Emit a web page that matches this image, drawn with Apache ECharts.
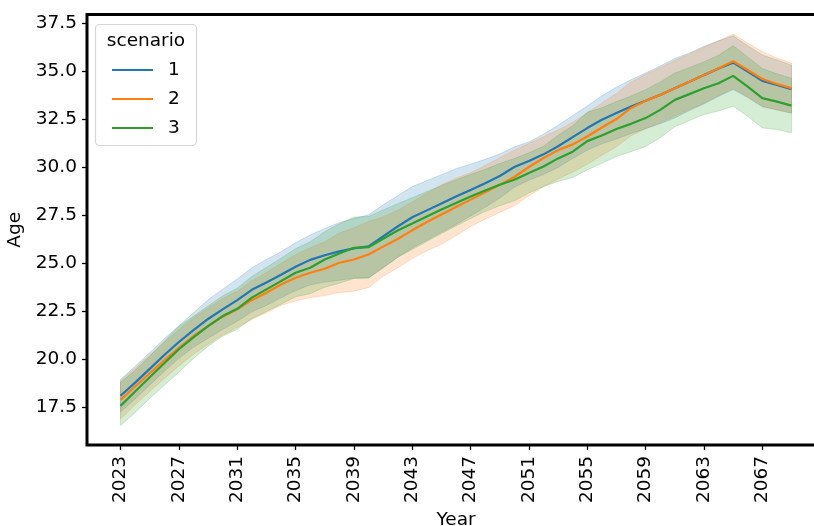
<!DOCTYPE html>
<html><head><meta charset="utf-8">
<script src="https://cdn.jsdelivr.net/npm/echarts@6/dist/echarts.min.js"></script>
<style>html,body{margin:0;padding:0;background:#fff}#c{width:814px;height:526px}</style>
</head><body><div id="c"></div>
<script>
const years = [2023,2024,2025,2026,2027,2028,2029,2030,2031,2032,2033,2034,2035,2036,2037,2038,2039,2040,2041,2042,2043,2044,2045,2046,2047,2048,2049,2050,2051,2052,2053,2054,2055,2056,2057,2058,2059,2060,2061,2062,2063,2064,2065,2066,2067,2068,2069];
const xTicks = [2023,2027,2031,2035,2039,2043,2047,2051,2055,2059,2063,2067];
const yTicks = [17.5,20,22.5,25,27.5,30,32.5,35,37.5];
const names = ['1','2','3'];

const mean1 = [18.1,18.78,19.5,20.22,20.9,21.52,22.1,22.6,23.08,23.62,24.0,24.4,24.82,25.18,25.42,25.62,25.78,25.88,26.4,26.92,27.4,27.76,28.12,28.48,28.82,29.17,29.55,30.02,30.33,30.68,31.1,31.58,32.05,32.48,32.83,33.17,33.47,33.78,34.13,34.46,34.81,35.15,35.46,34.99,34.51,34.3,34.08];
const upper1 = [18.95,19.63,20.35,21.07,21.75,22.42,23.1,23.65,24.18,24.77,25.2,25.6,26.07,26.48,26.82,27.12,27.33,27.53,28.05,28.52,29.0,29.31,29.62,29.93,30.17,30.42,30.7,31.07,31.33,31.73,32.2,32.7,33.2,33.73,34.18,34.57,34.92,35.28,35.68,35.96,36.31,36.6,36.86,36.34,35.86,35.6,35.33];
const lower1 = [17.25,17.93,18.65,19.37,20.05,20.62,21.1,21.55,21.98,22.47,22.8,23.2,23.57,23.88,24.02,24.12,24.23,24.23,24.75,25.32,25.8,26.21,26.62,27.03,27.47,27.92,28.4,28.97,29.33,29.63,30.0,30.46,30.9,31.23,31.48,31.77,32.02,32.28,32.58,32.96,33.31,33.7,34.06,33.64,33.16,33.0,32.83];

const mean2 = [17.88,18.58,19.27,19.94,20.6,21.21,21.73,22.22,22.6,23.08,23.47,23.9,24.25,24.51,24.72,25.03,25.2,25.46,25.87,26.27,26.72,27.15,27.54,27.94,28.32,28.7,29.1,29.5,30.02,30.49,30.9,31.2,31.61,32.08,32.52,33.1,33.47,33.78,34.13,34.46,34.81,35.17,35.53,35.08,34.61,34.35,34.13];
const upper2 = [18.88,19.53,20.22,20.89,21.55,22.16,22.68,23.17,23.55,24.08,24.52,25.0,25.45,25.81,26.12,26.58,26.85,27.18,27.42,27.77,28.19,28.65,29.09,29.44,29.72,30.1,30.5,30.9,31.25,31.6,31.95,32.35,32.85,33.35,33.85,34.45,34.85,35.2,35.58,35.91,36.26,36.59,36.95,36.48,36.03,35.7,35.43];
const lower2 = [16.88,17.63,18.32,18.99,19.65,20.26,20.78,21.27,21.65,22.08,22.42,22.8,23.05,23.21,23.32,23.48,23.55,23.74,24.32,24.77,25.25,25.65,25.99,26.44,26.92,27.3,27.65,28.0,28.52,28.99,29.4,29.75,30.16,30.63,31.07,31.65,32.02,32.33,32.68,33.01,33.36,33.75,34.11,33.68,33.19,33.0,32.83];

const mean3 = [17.57,18.32,19.06,19.79,20.52,21.14,21.73,22.25,22.63,23.21,23.64,24.07,24.51,24.77,25.2,25.51,25.81,25.84,26.28,26.71,27.07,27.44,27.8,28.15,28.48,28.8,29.1,29.36,29.71,30.05,30.47,30.82,31.37,31.66,32.0,32.27,32.57,33.0,33.52,33.82,34.13,34.39,34.77,34.21,33.61,33.43,33.22];
const upper3 = [18.8,19.42,20.16,20.94,21.72,22.24,22.78,23.3,23.7,24.31,24.79,25.27,25.76,26.12,26.65,27.06,27.41,27.44,27.78,28.11,28.42,28.74,29.05,29.35,29.63,29.9,30.2,30.46,30.76,31.1,31.67,32.17,32.87,33.11,33.43,33.72,34.05,34.45,34.92,35.2,35.5,35.84,36.35,35.76,35.16,34.88,34.65];
const lower3 = [16.55,17.22,17.96,18.64,19.32,20.04,20.68,21.2,21.56,22.11,22.49,22.87,23.26,23.42,23.75,23.96,24.21,24.24,24.78,25.31,25.72,26.14,26.55,26.95,27.33,27.7,28.0,28.26,28.66,29.0,29.27,29.47,29.87,30.21,30.57,30.82,31.09,31.55,32.12,32.44,32.76,32.94,33.19,32.66,32.06,31.98,31.79];

const colors = ['#1f77b4','#ff7f0e','#2ca02c'];
const bandFill = ['rgba(31,119,180,0.2)','rgba(255,127,14,0.2)','rgba(44,160,44,0.2)'];
const means = [mean1, mean2, mean3];
const uppers = [upper1, upper2, upper3];
const lowers = [lower1, lower2, lower3];
const FONT = 'DejaVu Sans';
const FS = 18.5;

function bandSeries(k) {
  return {
    type: 'custom', name: 'band' + names[k], z: 1, silent: true,
    data: [[years[0], lowers[k][0]]],
    renderItem: function (params, api) {
      const pts = [];
      for (let i = 0; i < years.length; i++) pts.push(api.coord([years[i], uppers[k][i]]));
      for (let i = years.length - 1; i >= 0; i--) pts.push(api.coord([years[i], lowers[k][i]]));
      return { type: 'polygon', shape: { points: pts },
        style: { fill: bandFill[k], stroke: bandFill[k], lineWidth: 1 } };
    }
  };
}
function lineSeries(k) {
  return {
    type: 'line', name: names[k], z: 3, showSymbol: false, symbol: 'none',
    data: years.map((y, i) => [y, means[k][i]]),
    lineStyle: { color: colors[k], width: 2.2 }, itemStyle: { color: colors[k] }
  };
}

const chart = echarts.init(document.getElementById('c'), null, { renderer: 'canvas' });
chart.setOption({
  animation: false,
  backgroundColor: '#fff',
  textStyle: { fontFamily: FONT },
  grid: { left: 87, top: 14.5, width: 738, height: 430.5, show: true, outerBoundsMode: 'none', containLabel: false,
          borderColor: '#000', borderWidth: 3, backgroundColor: 'transparent' },
  xAxis: {
    type: 'value', min: 2020.7, max: 2071.3,
    name: 'Year', nameLocation: 'middle', nameGap: 61,
    nameTextStyle: { color: '#000', fontSize: FS, fontFamily: FONT },
    axisLine: { show: false },
    axisTick: { show: true, length: 5, lineStyle: { color: '#000', width: 1.3 }, customValues: xTicks },
    axisLabel: { rotate: 90, margin: 11, color: '#000', fontSize: FS, fontFamily: FONT, customValues: xTicks,
                 formatter: v => String(v) },
    splitLine: { show: false }
  },
  yAxis: {
    type: 'value', min: 15.53, max: 37.97,
    name: 'Age', nameLocation: 'middle', nameGap: 57,
    nameTextStyle: { color: '#000', fontSize: FS, fontFamily: FONT },
    axisLine: { show: false },
    axisTick: { show: true, length: 5, lineStyle: { color: '#000', width: 1.3 }, customValues: yTicks },
    axisLabel: { margin: 10, color: '#000', fontSize: FS, fontFamily: FONT, customValues: yTicks,
                 formatter: v => Number(v).toFixed(1) },
    splitLine: { show: false }
  },
  legend: {
    data: names, orient: 'vertical', left: 112, top: 59.5, padding: 0,
    itemGap: 8, itemWidth: 41, itemHeight: 2.2, icon: 'rect', selectedMode: false,
    textStyle: { color: '#000', fontSize: FS, fontFamily: FONT, lineHeight: 21, padding: [0, 0, 0, 10] }
  },
  graphic: [
    { type: 'rect', z: 3, shape: { x: 95.5, y: 24.5, width: 101, height: 121, r: 4 },
      style: { fill: 'rgba(255,255,255,0.85)', stroke: '#d6d6d6', lineWidth: 1.2 } },
    { type: 'text', z: 4, x: 146, y: 41.5,
      style: { text: 'scenario', fill: '#000', font: FS + 'px "' + FONT + '"', textAlign: 'center', textVerticalAlign: 'middle' } }
  ],
  series: [bandSeries(0), bandSeries(1), bandSeries(2), lineSeries(0), lineSeries(1), lineSeries(2)]
});
</script>
</body></html>
